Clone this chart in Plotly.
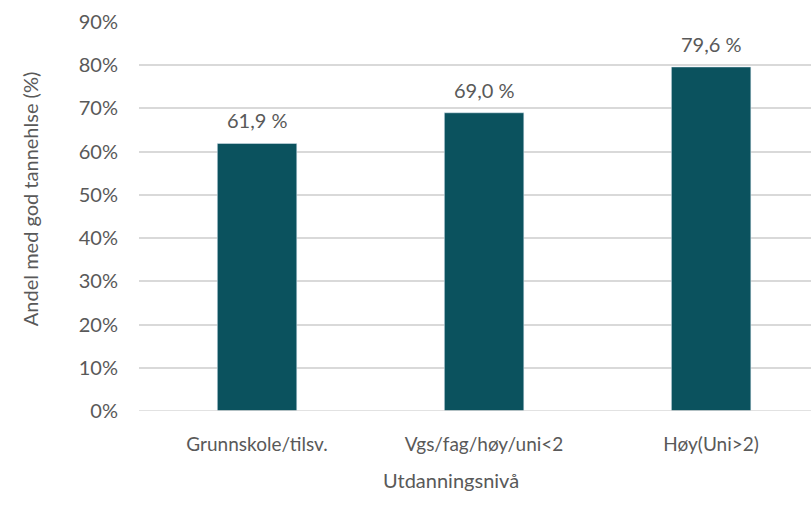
import plotly.graph_objects as go

categories = ["Grunnskole/tilsv.", "Vgs/fag/høy/uni<2", "Høy(Uni>2)"]
values = [61.9, 69.0, 79.6]
y_ticks = [0, 10, 20, 30, 40, 50, 60, 70, 80, 90]
y_ticklabels = [f"{t}%" for t in y_ticks]
labels = [f"{v:.1f} %".replace(".", ",") for v in values]

BAR = "#0b525e"
GRAY = "#595959"
FONT = "Lato, Open Sans, sans-serif"

fig = go.Figure(go.Bar(
    x=[0, 1, 2], y=values, marker_color=BAR, width=0.35,
))

annotations = [
    dict(text=lab, x=i, y=v, xref="x", yref="y", xanchor="center", yanchor="bottom",
         yshift=9, showarrow=False, font=dict(size=20, color=GRAY, family=FONT))
    for i, (v, lab) in enumerate(zip(values, labels))
]
annotations += [
    dict(text="Utdanningsnivå", xref="paper", yref="paper", x=0.464, y=-0.177,
         xanchor="center", yanchor="middle", showarrow=False,
         font=dict(size=20, color=GRAY, family=FONT)),
    dict(text="Andel med god tannehlse (%)", xref="paper", yref="paper",
         x=-0.162, y=0.545, xanchor="center", yanchor="middle", textangle=-90,
         showarrow=False, font=dict(size=20, color=GRAY, family=FONT)),
]

fig.update_layout(
    width=811, height=515,
    margin=dict(l=139, r=0, t=22, b=104),
    plot_bgcolor="white", paper_bgcolor="white",
    showlegend=False,
    font=dict(family=FONT, color=GRAY, size=19),
    xaxis=dict(range=[-0.52, 2.44], tickvals=[0, 1, 2], ticktext=categories,
               showgrid=False, zeroline=False, showline=False,
               tickfont=dict(size=19, color=GRAY), ticks="", ticklabelstandoff=20),
    yaxis=dict(range=[0, 90], tickvals=y_ticks, ticktext=y_ticklabels,
               showgrid=True, gridcolor="#d9d9d9", gridwidth=1.5, zeroline=False,
               showline=False, tickfont=dict(size=20, color=GRAY), ticks="",
               ticklabelstandoff=20),
    annotations=annotations,
)
fig.add_shape(type="line", xref="paper", yref="y", x0=0, x1=1, y0=0, y1=0,
              line=dict(color="#d9d9d9", width=1.5))

fig.write_html("out.html")
